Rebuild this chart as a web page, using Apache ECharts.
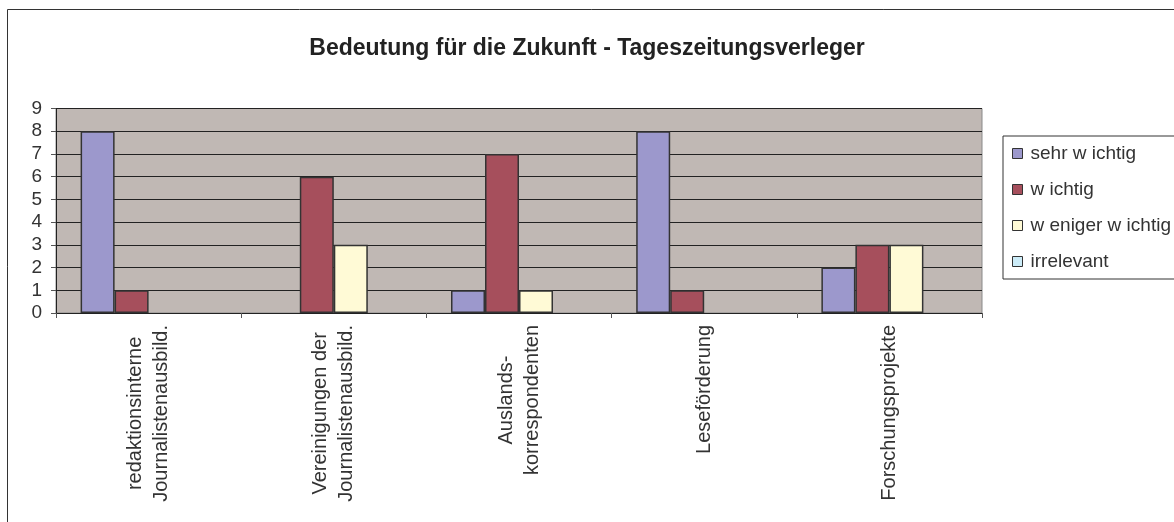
<!DOCTYPE html>
<html>
<head>
<meta charset="utf-8">
<script src="https://cdn.jsdelivr.net/npm/echarts@6/dist/echarts.min.js"></script>
<style>
  html, body { margin: 0; padding: 0; background: #fff; }
  #chart { width: 1174px; height: 522px; }
</style>
</head>
<body>
<div id="chart"></div>
<script>
// data
const categories = [
  "redaktionsinterne\nJournalistenausbild.",
  "Vereinigungen der\nJournalistenausbild.",
  "Auslands-\nkorrespondenten",
  "Leseförderung",
  "Forschungsprojekte",
];
const seriesNames = ["sehr w ichtig", "w ichtig", "w eniger w ichtig", "irrelevant"];
const sehrWichtig = [8, 0, 1, 8, 2];
const wichtig = [1, 6, 7, 1, 3];
const wenigerWichtig = [0, 3, 1, 0, 3];
const irrelevant = [0, 0, 0, 0, 0];
const yTicks = [0, 1, 2, 3, 4, 5, 6, 7, 8, 9];

const colors = ["#9c98cc", "#a64f5c", "#fffad6", "#ccecf8"];
const font = "'Liberation Sans', Arial, sans-serif";
const textColor = "#333";

const chart = echarts.init(document.getElementById("chart"));

const values = [sehrWichtig, wichtig, wenigerWichtig, irrelevant];

chart.setOption({
  animation: false,
  color: colors,
  textStyle: { fontFamily: font },
  title: {
    text: "Bedeutung für die Zukunft - Tageszeitungsverleger",
    left: "center",
    top: 32,
    textStyle: { fontSize: 23, fontWeight: "bold", color: "#222", fontFamily: font },
  },
  graphic: [
    {
      type: "rect",
      shape: { x: 7.5, y: 9.5, width: 1400, height: 700 },
      style: { fill: "none", stroke: "#333", lineWidth: 1 },
      silent: true,
      z: -1,
    },
  ],
  legend: {
    orient: "vertical",
    left: 1003,
    top: 136,
    padding: [8, 40, 8, 9],
    itemGap: 17,
    itemWidth: 10,
    itemHeight: 10,
    icon: "rect",
    borderColor: "#333",
    borderWidth: 1,
    itemStyle: { borderColor: "#333", borderWidth: 1 },
    textStyle: { fontSize: 19, lineHeight: 18, color: textColor, fontFamily: font, padding: [0, 0, 0, 3] },
    data: seriesNames,
  },
  grid: {
    left: 56,
    right: 192,
    top: 108.5,
    bottom: 209,
    show: true,
    backgroundColor: "#c0b8b4",
    borderColor: "#8a8a8a",
    borderWidth: 1,
  },
  xAxis: {
    type: "category",
    data: categories,
    axisLine: { lineStyle: { color: "#222", width: 1 } },
    axisTick: { show: true, length: 5, lineStyle: { color: "#555" } },
    axisLabel: {
      rotate: 90,
      margin: 12,
      fontSize: 20,
      color: textColor,
      fontFamily: font,
      lineHeight: 26,
      formatter: (v) => v.split("\n").map((s) => "{c|" + s + "}").join("\n"),
      rich: {
        c: { align: "center", fontSize: 20, lineHeight: 26, color: textColor, fontFamily: font },
      },
    },
  },
  yAxis: {
    type: "value",
    min: yTicks[0],
    max: yTicks[yTicks.length - 1],
    interval: 1,
    axisLine: { show: true, lineStyle: { color: "#222", width: 1 } },
    axisTick: { show: true, length: 5, lineStyle: { color: "#555" } },
    axisLabel: { fontSize: 19, color: textColor, margin: 14, fontFamily: font },
    splitLine: { lineStyle: { color: "#222", width: 1 } },
  },
  series: seriesNames.map((name, i) => ({
    name: name,
    type: "bar",
    barWidth: 34,
    barGap: "0%",
    // zero counts are left empty, as in the original
    data: values[i].map((v) => (v === 0 ? "-" : v)),
    itemStyle: { color: colors[i], borderColor: "#333", borderWidth: 1.5 },
  })),
});
</script>
</body>
</html>
